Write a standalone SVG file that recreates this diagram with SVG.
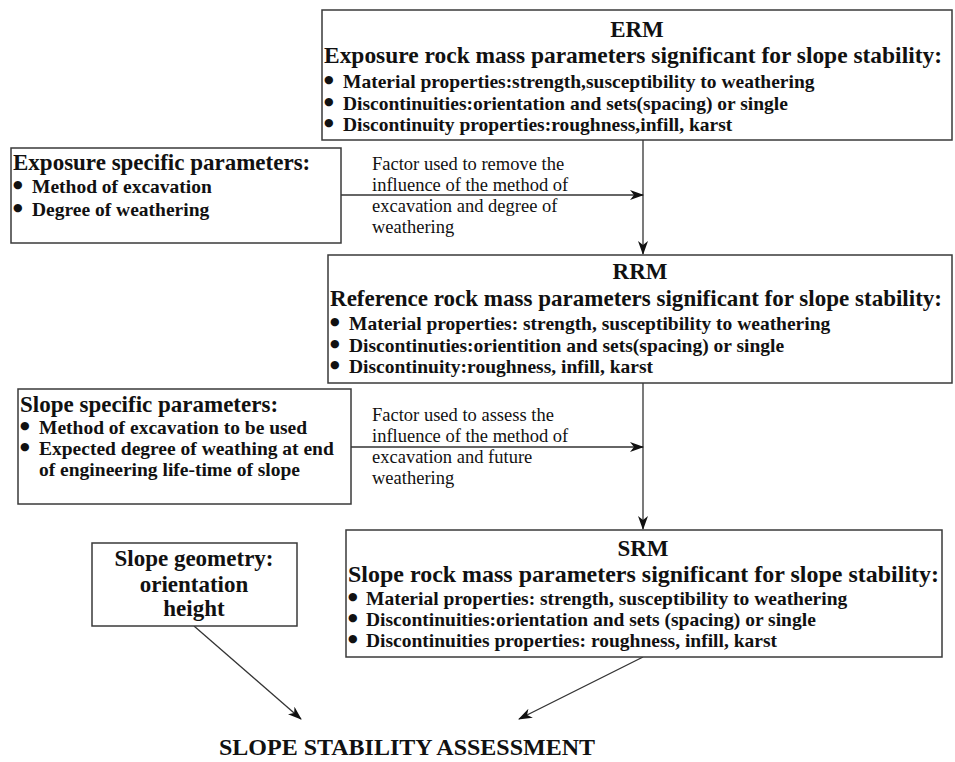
<svg xmlns="http://www.w3.org/2000/svg" width="955" height="762" viewBox="0 0 955 762">
<defs>
<style>
.box{fill:#fff;stroke:#3a3a3a;stroke-width:1.5}
.t{font-family:"Liberation Serif","Times New Roman",serif;fill:#111}
.h{font-weight:bold;font-size:23px}
.b{font-weight:bold;font-size:19.5px}
.f{font-size:18.5px}
.c{text-anchor:middle}
.d{font-family:"DejaVu Sans",sans-serif;font-size:11px;fill:#111}
.ln{stroke:#333;stroke-width:1.3;fill:none}
</style>
<marker id="ah" viewBox="0 0 14 10" refX="13" refY="5" markerWidth="14" markerHeight="10" markerUnits="userSpaceOnUse" orient="auto">
<path d="M0,0 L14,5 L0,10 L4,5 Z" fill="#111"/>
</marker>
</defs>
<rect width="955" height="762" fill="#fff"/>
<g id="connectors">
<line class="ln" x1="643" y1="140" x2="643" y2="254" marker-end="url(#ah)"/>
<line class="ln" x1="341" y1="195" x2="643" y2="195" marker-end="url(#ah)"/>
<line class="ln" x1="643" y1="383" x2="643" y2="529" marker-end="url(#ah)"/>
<line class="ln" x1="351" y1="447" x2="643" y2="447" marker-end="url(#ah)"/>
<line class="ln" x1="194" y1="626" x2="301" y2="719" marker-end="url(#ah)"/>
<line class="ln" x1="643" y1="657" x2="519" y2="719" marker-end="url(#ah)"/>
</g>
<g id="erm">
<rect class="box" x="322" y="10" width="630" height="130"/>
<text class="t h c" x="637" y="37">ERM</text>
<text class="t h" x="324" y="63" textLength="618" lengthAdjust="spacingAndGlyphs">Exposure rock mass parameters significant for slope stability:</text>
<text class="d" x="324" y="83">●</text><text class="t b" x="343" y="88">Material properties:strength,susceptibility to weathering</text>
<text class="d" x="324" y="105">●</text><text class="t b" x="343" y="110">Discontinuities:orientation and sets(spacing) or single</text>
<text class="d" x="324" y="126">●</text><text class="t b" x="343" y="131">Discontinuity properties:roughness,infill, karst</text>
</g>
<g id="exposure">
<rect class="box" x="11" y="148" width="330" height="95"/>
<text class="t h" x="13" y="170">Exposure specific parameters:</text>
<text class="d" x="13" y="188">●</text><text class="t b" x="32" y="193">Method of excavation</text>
<text class="d" x="13" y="211">●</text><text class="t b" x="32" y="216">Degree of weathering</text>
</g>
<g id="factor1">
<text class="t f" x="372" y="170">Factor used to remove the</text>
<text class="t f" x="372" y="191">influence of the method of</text>
<text class="t f" x="372" y="212">excavation and degree of</text>
<text class="t f" x="372" y="233">weathering</text>
</g>
<g id="rrm">
<rect class="box" x="328" y="255" width="624" height="128"/>
<text class="t h c" x="640" y="279">RRM</text>
<text class="t h" x="330" y="306" textLength="612" lengthAdjust="spacingAndGlyphs">Reference rock mass parameters significant for slope stability:</text>
<text class="d" x="330" y="325">●</text><text class="t b" x="349" y="330">Material properties: strength, susceptibility to weathering</text>
<text class="d" x="330" y="347">●</text><text class="t b" x="349" y="352">Discontinuties:orientition and sets(spacing) or single</text>
<text class="d" x="330" y="368">●</text><text class="t b" x="349" y="373">Discontinuity:roughness, infill, karst</text>
</g>
<g id="slope-specific">
<rect class="box" x="18" y="389" width="333" height="115"/>
<text class="t h" x="20" y="412">Slope specific parameters:</text>
<text class="d" x="20" y="429">●</text><text class="t b" x="39" y="434">Method of excavation to be used</text>
<text class="d" x="20" y="450">●</text><text class="t b" x="39" y="455">Expected degree of weathing at end</text>
<text class="t b" x="39" y="476">of engineering life-time of slope</text>
</g>
<g id="factor2">
<text class="t f" x="372" y="421">Factor used to assess the</text>
<text class="t f" x="372" y="442">influence of the method of</text>
<text class="t f" x="372" y="463">excavation and future</text>
<text class="t f" x="372" y="484">weathering</text>
</g>
<g id="slope-geometry">
<rect class="box" x="92" y="543" width="205" height="83"/>
<text class="t h c" x="194" y="566">Slope geometry:</text>
<text class="t h c" x="194" y="592">orientation</text>
<text class="t h c" x="194" y="616">height</text>
</g>
<g id="srm">
<rect class="box" x="346" y="530" width="596" height="127"/>
<text class="t h c" x="643" y="556">SRM</text>
<text class="t h" x="348" y="582" textLength="591" lengthAdjust="spacingAndGlyphs">Slope rock mass parameters significant for slope stability:</text>
<text class="d" x="348" y="600">●</text><text class="t b" x="366" y="605">Material properties: strength, susceptibility to weathering</text>
<text class="d" x="348" y="621">●</text><text class="t b" x="366" y="626">Discontinuities:orientation and sets (spacing) or single</text>
<text class="d" x="348" y="642">●</text><text class="t b" x="366" y="647">Discontinuities properties: roughness, infill, karst</text>
</g>
<g id="assessment">
<text class="t" x="219" y="755" font-weight="bold" font-size="24" textLength="376" lengthAdjust="spacingAndGlyphs">SLOPE STABILITY ASSESSMENT</text>
</g>
</svg>
